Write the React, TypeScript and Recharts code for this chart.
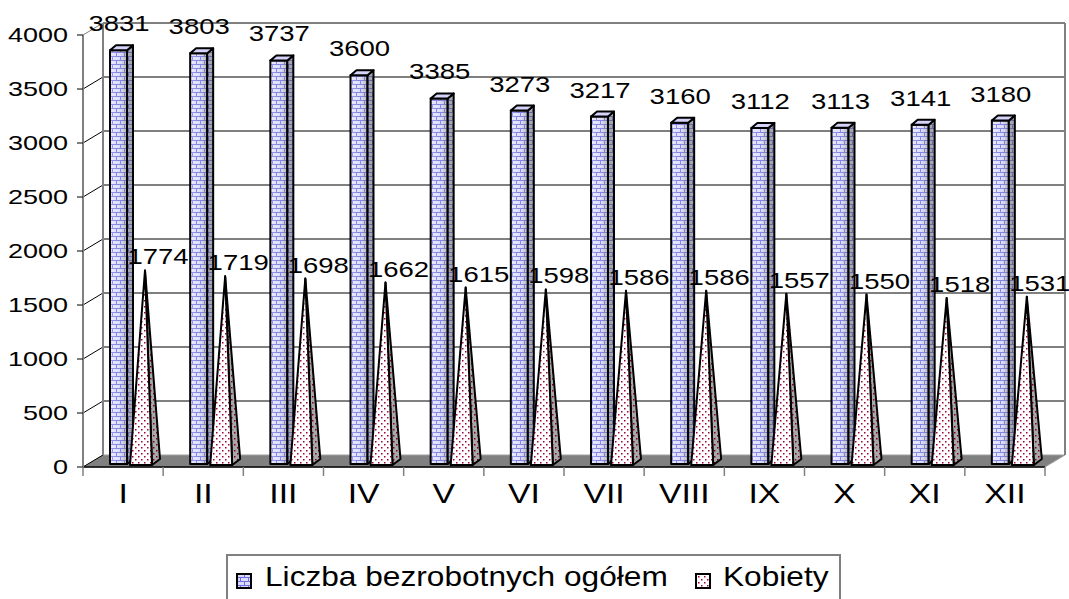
import React from 'react';
import { BarChart, Bar, XAxis, YAxis, CartesianGrid, LabelList } from 'recharts';

// dane: liczba bezrobotnych w kolejnych miesiącach
const months = ['I', 'II', 'III', 'IV', 'V', 'VI', 'VII', 'VIII', 'IX', 'X', 'XI', 'XII'];
const totalValues = [3831, 3803, 3737, 3600, 3385, 3273, 3217, 3160, 3112, 3113, 3141, 3180];
const womenValues = [1774, 1719, 1698, 1662, 1615, 1598, 1586, 1586, 1557, 1550, 1518, 1531];
const yTicks = [0, 500, 1000, 1500, 2000, 2500, 3000, 3500, 4000];
const seriesNames = ['Liczba bezrobotnych ogółem', 'Kobiety'];

const data = months.map((m, i) => ({ month: m, total: totalValues[i], women: womenValues[i] }));

const W = 1069;
const H = 599;
const MARGIN = { top: 35, right: 24, bottom: 0, left: 0 };
const Y_AXIS_W = 83;
const X_AXIS_H = 132;
const PLOT_BOTTOM = H - X_AXIS_H;
const PLOT_W = W - MARGIN.right - Y_AXIS_W;
// przesunięcie tylnej ściany (efekt 3D)
const DX = 20;
const DY = 12;

const FONT = '"Liberation Sans", Arial, sans-serif';

const renderGridLine = (p: any) => {
  const { x1, y1, x2 } = p;
  const isBottom = Math.abs(y1 - PLOT_BOTTOM) < 1;
  const isTop = Math.abs(y1 - MARGIN.top) < 1;
  return (
    <g key={p.key ?? `grid-${y1}`}>
      {isTop && (
        <>
          <line x1={x1 + DX} y1={y1 - DY} x2={x1 + DX} y2={PLOT_BOTTOM - DY} stroke="#808080" strokeWidth={2} />
          <line x1={x2 + DX} y1={y1 - DY} x2={x2 + DX} y2={PLOT_BOTTOM - DY} stroke="#808080" strokeWidth={2} />
        </>
      )}
      {isBottom && (
        <polygon
          points={`${x1},${y1} ${x2},${y1} ${x2 + DX},${y1 - DY} ${x1 + DX},${y1 - DY}`}
          fill="#808080"
          stroke="#a0a0a0"
          strokeWidth={1}
        />
      )}
      {!isBottom && (
        <line
          x1={x1 + DX}
          y1={y1 - DY}
          x2={x2 + DX}
          y2={y1 - DY}
          stroke={isTop ? '#808080' : '#000'}
          strokeWidth={isTop ? 2 : 1}
        />
      )}
      <line x1={x1} y1={y1} x2={x1 + DX} y2={y1 - DY} stroke={isTop ? '#808080' : '#000'} strokeWidth={1} />
    </g>
  );
};

// słupek ogółem – prostopadłościan z cegiełkami
const BoxShape = (p: any) => {
  const { x, y, height } = p;
  const base = y + height;
  const fx = x + 7;
  const fw = 17;
  const side = 6;
  const d = 5;
  const top = y - 3;
  const bottom = base - 3;
  return (
    <g stroke="#000" strokeWidth={2} strokeLinejoin="round">
      <rect x={fx} y={top} width={fw} height={bottom - top} fill="url(#brick)" stroke="none" />
      <rect x={fx} y={top} width={fw} height={bottom - top} fill="url(#boxShade)" />
      <polygon
        points={`${fx + fw},${top} ${fx + fw + side},${top - d} ${fx + fw + side},${bottom - d} ${fx + fw},${bottom}`}
        fill="url(#brickDark)"
      />
      <polygon
        points={`${fx},${top} ${fx + side},${top - d} ${fx + fw + side},${top - d} ${fx + fw},${top}`}
        fill="#d4d4fa"
      />
    </g>
  );
};

// słupek kobiety – ostrosłup w kropki
const PyramidShape = (p: any) => {
  const { x, y, height } = p;
  const base = y + height;
  const ax = x + 22;
  const ay = y - 5;
  const b = base - 2;
  return (
    <g stroke="#000" strokeWidth={2} strokeLinejoin="round">
      <polygon points={`${x + 29},${b} ${x + 37},${b - 6} ${ax},${ay}`} fill="url(#dotsDark)" />
      <polygon points={`${x + 7},${b} ${x + 29},${b} ${ax},${ay}`} fill="url(#dots)" />
    </g>
  );
};

const readBox = (p: any) => {
  const vb = p.viewBox || {};
  return { x: vb.x ?? p.x, y: vb.y ?? p.y, value: p.value };
};

const TotalLabel = (p: any) => {
  const { x, y, value } = readBox(p);
  if (x == null || y == null) return null;
  return (
    <text
      transform={`translate(${x + 16},${y - 22}) scale(1.25,1)`}
      textAnchor="middle"
      fontSize={22}
      fontFamily={FONT}
      fill="#000"
    >
      {value}
    </text>
  );
};

const WomenLabel = (p: any) => {
  const { x, y, value } = readBox(p);
  if (x == null || y == null) return null;
  return (
    <text
      transform={`translate(${x + 35},${y - 11}) scale(1.25,1)`}
      textAnchor="middle"
      fontSize={22}
      fontFamily={FONT}
      fill="#000"
    >
      {value}
    </text>
  );
};

const YTick = (p: any) => {
  const { x, y, payload } = p;
  return (
    <text
      transform={`translate(${x - 7},${y + 7}) scale(1.35,1)`}
      textAnchor="end"
      fontSize={20}
      fontFamily={FONT}
      fill="#000"
    >
      {payload.value}
    </text>
  );
};

const XTick = (p: any) => {
  const { x, payload, index } = p;
  const half = PLOT_W / months.length / 2;
  return (
    <g>
      <line x1={x - half} y1={PLOT_BOTTOM} x2={x - half} y2={PLOT_BOTTOM + 9} stroke="#808080" strokeWidth={1.5} />
      {index === months.length - 1 && (
        <line x1={x + half} y1={PLOT_BOTTOM} x2={x + half} y2={PLOT_BOTTOM + 9} stroke="#808080" strokeWidth={1.5} />
      )}
      <text
        transform={`translate(${x},${PLOT_BOTTOM + 36}) scale(1.25,1)`}
        textAnchor="middle"
        fontSize={27}
        fontFamily={FONT}
        fill="#000"
      >
        {payload.value}
      </text>
    </g>
  );
};

const LegendIcon = ({ fill }: { fill: string }) => (
  <svg width={16} height={16} style={{ display: 'block' }}>
    <rect x={1} y={1} width={14} height={14} fill={fill} stroke="#000" strokeWidth={2} />
  </svg>
);

export default function App() {
  return (
    <div style={{ position: 'absolute', left: 0, top: 0, width: W, height: H, overflow: 'hidden', background: '#fff' }}>
      <BarChart width={W} height={H} data={data} margin={MARGIN} barGap={0}>
        <defs>
          <pattern id="brick" width={8} height={8} patternUnits="userSpaceOnUse">
            <rect width={8} height={8} fill="#dcdcfa" />
            <path d="M0 0.5H8M0 4.5H8M0.5 0.5V4.5M4.5 4.5V8.5" stroke="#6c6ce6" strokeWidth={1} fill="none" />
          </pattern>
          <pattern id="brickDark" width={8} height={8} patternUnits="userSpaceOnUse">
            <rect width={8} height={8} fill="#a6a6b0" />
            <path d="M0 0.5H8M0 4.5H8M0.5 0.5V4.5M4.5 4.5V8.5" stroke="#6a6aa8" strokeWidth={1} fill="none" />
          </pattern>
          <linearGradient id="boxShade" x1="0" y1="0" x2="1" y2="0">
            <stop offset="0%" stopColor="#ffffff" stopOpacity={0.35} />
            <stop offset="45%" stopColor="#ffffff" stopOpacity={0.15} />
            <stop offset="100%" stopColor="#707070" stopOpacity={0.45} />
          </linearGradient>
          <pattern id="dots" width={6} height={6} patternUnits="userSpaceOnUse">
            <rect width={6} height={6} fill="#ffffff" />
            <rect x={0} y={0} width={1.5} height={1.5} fill="#a0003c" />
            <rect x={3} y={3} width={1.5} height={1.5} fill="#a0003c" />
          </pattern>
          <pattern id="dotsDark" width={6} height={6} patternUnits="userSpaceOnUse">
            <rect width={6} height={6} fill="#a8a8a8" />
            <rect x={0} y={0} width={1.5} height={1.5} fill="#80002c" />
            <rect x={3} y={3} width={1.5} height={1.5} fill="#80002c" />
          </pattern>
        </defs>
        <CartesianGrid vertical={false} horizontal={renderGridLine} />
        <XAxis
          dataKey="month"
          height={X_AXIS_H}
          axisLine={{ stroke: '#000', strokeWidth: 1.5 }}
          tickLine={false}
          tick={<XTick />}
          interval={0}
        />
        <YAxis
          width={Y_AXIS_W}
          domain={[0, 4000]}
          ticks={yTicks}
          interval={0}
          axisLine={{ stroke: '#808080', strokeWidth: 2 }}
          tickLine={{ stroke: '#000', strokeWidth: 1 }}
          tick={<YTick />}
        />
        <Bar dataKey="total" name={seriesNames[0]} barSize={20} shape={<BoxShape />} isAnimationActive={false}>
          <LabelList dataKey="total" content={<TotalLabel />} />
        </Bar>
        <Bar dataKey="women" name={seriesNames[1]} barSize={20} shape={<PyramidShape />} isAnimationActive={false}>
          <LabelList dataKey="women" content={<WomenLabel />} />
        </Bar>
      </BarChart>
      <div
        style={{
          position: 'absolute',
          left: 226,
          top: 554,
          width: 615,
          height: 60,
          border: '2px solid #808080',
          boxSizing: 'border-box',
          fontFamily: FONT,
          fontSize: 28,
          color: '#000',
        }}
      >
        <div style={{ position: 'absolute', left: 8, top: 17 }}>
          <LegendIcon fill="url(#brick)" />
        </div>
        <div style={{ position: 'absolute', left: 37, top: 5, whiteSpace: 'nowrap', transform: 'scaleX(1.13)', transformOrigin: 'left' }}>
          {seriesNames[0]}
        </div>
        <div style={{ position: 'absolute', left: 467, top: 17 }}>
          <LegendIcon fill="url(#dots)" />
        </div>
        <div style={{ position: 'absolute', left: 495, top: 5, whiteSpace: 'nowrap', transform: 'scaleX(1.13)', transformOrigin: 'left' }}>
          {seriesNames[1]}
        </div>
      </div>
    </div>
  );
}
